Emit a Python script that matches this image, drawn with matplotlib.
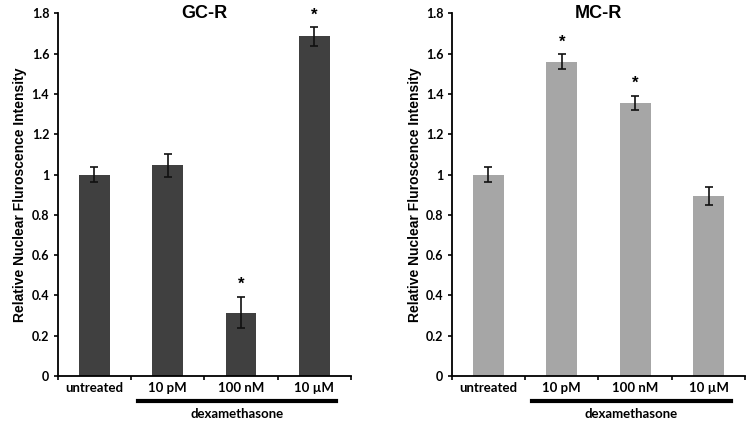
import matplotlib
matplotlib.use("Agg")
import matplotlib.pyplot as plt
from matplotlib.lines import Line2D

categories = ["untreated", "10 pM", "100 nM", "10 \u00b5M"]
gcr_values = [1.00, 1.045, 0.315, 1.685]
gcr_errors = [0.035, 0.057, 0.077, 0.045]
gcr_sig = [False, False, True, True]
mcr_values = [1.00, 1.56, 1.355, 0.895]
mcr_errors = [0.035, 0.036, 0.036, 0.044]
mcr_sig = [False, True, True, False]
yticks = [0, 0.2, 0.4, 0.6, 0.8, 1.0, 1.2, 1.4, 1.6, 1.8]
ytick_labels = ["0", "0.2", "0.4", "0.6", "0.8", "1", "1.2", "1.4", "1.6", "1.8"]
ylabel = "Relative Nuclear Fluroscence Intensity"
group_label = "dexamethasone"

fig = plt.figure(figsize=(7.5, 4.24), dpi=100)
tick_font = "Lato"

def panel(rect, values, errors, sig, color, title):
    ax = fig.add_axes(rect)
    x = list(range(len(categories)))
    ax.bar(x, values, width=0.42, color=color, zorder=2)
    ax.errorbar(x, values, yerr=errors, fmt="none", ecolor="#111111",
                elinewidth=1.2, capsize=3, capthick=1.2, zorder=3)
    for xi, v, e, s in zip(x, values, errors, sig):
        if s:
            ax.text(xi, v + e + 0.025, "*", ha="center", va="bottom",
                    fontsize=12, fontweight="bold", family="Liberation Sans")
    ax.set_xlim(-0.5, 3.5)
    ax.set_ylim(0, 1.8)
    ax.set_yticks(yticks)
    ax.set_yticklabels(ytick_labels, fontsize=9, fontweight="bold", family=tick_font)
    ax.set_xticks([-0.5, 0.5, 1.5, 2.5, 3.5])
    ax.set_xticklabels([])
    ax.set_xticks(x, minor=True)
    ax.set_xticklabels(categories, minor=True, fontsize=9.5, fontweight="bold", family=tick_font)
    ax.tick_params(axis="x", which="major", direction="out", length=3, width=1.2)
    ax.tick_params(axis="x", which="minor", length=0, pad=4)
    ax.tick_params(axis="y", direction="out", length=3, width=1.2, pad=3)
    for sp in ["top", "right"]:
        ax.spines[sp].set_visible(False)
    for sp in ["left", "bottom"]:
        ax.spines[sp].set_linewidth(1.3)
    ax.set_ylabel(ylabel, fontsize=10, fontweight="bold", family="Liberation Sans", labelpad=3)
    ax.text(1.5, 1.8, title, ha="center", va="center", fontsize=13,
            fontweight="bold", family="Liberation Sans")
    # dexamethasone group bar
    trans = ax.get_xaxis_transform()
    ax.add_line(Line2D([0.6, 3.3], [-0.07, -0.07], transform=trans,
                       color="black", linewidth=3, clip_on=False))
    ax.text(1.95, -0.087, group_label, transform=trans, ha="center", va="top",
            fontsize=9.5, fontweight="bold", family=tick_font)
    return ax

panel([0.0767, 0.1132, 0.3913, 0.8554], gcr_values, gcr_errors, gcr_sig, "#404040", "GC-R")
panel([0.6023, 0.1132, 0.3913, 0.8554], mcr_values, mcr_errors, mcr_sig, "#a6a6a6", "MC-R")

fig.savefig("out.png", dpi=100)
